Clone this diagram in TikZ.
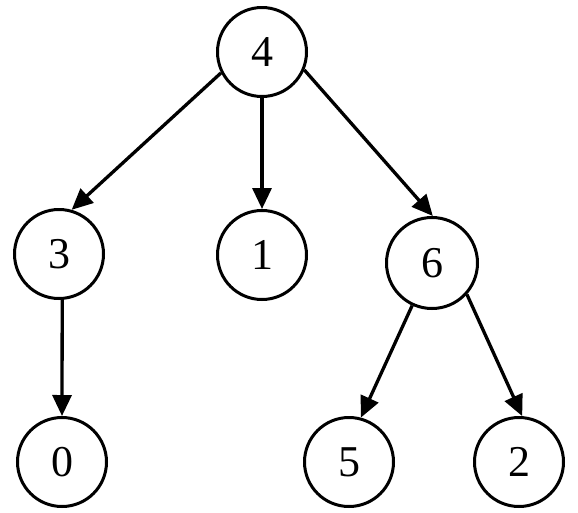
\documentclass[tikz,border=0pt]{standalone}
\usepackage{fontspec}
\setmainfont{Liberation Serif}
\usetikzlibrary{arrows.meta}
\begin{document}
\begin{tikzpicture}[x=1pt,y=-1pt,
  vtx/.style={circle,draw,line width=3pt,minimum size=89pt,inner sep=0pt,font=\fontsize{44}{44}\selectfont},
  edge/.style={line width=3.3pt,-{Triangle[length=21pt,width=19pt]}}]
\useasboundingbox (0,0) rectangle (578,512);
\node[vtx] (n4) at (262,52) {4};
\node[vtx] (n3) at (59,254) {3};
\node[vtx] (n1) at (262,255) {1};
\node[vtx,minimum size=91pt] (n6) at (432,263) {6};
\node[vtx] (n0) at (62,462) {0};
\node[vtx] (n5) at (349,462) {5};
\node[vtx] (n2) at (519,462) {2};
\draw[edge] (n4.207) -- (n3.74);
\draw[edge] (n4.south) -- (n1.north);
\draw[edge] (n4.337) -- (n6.89);
\draw[edge] (n3.274) -- (n0.north);
\draw[edge] (n6.245) -- (n5.75);
\draw[edge] (n6.318) -- (n2.86);
\end{tikzpicture}
\end{document}
